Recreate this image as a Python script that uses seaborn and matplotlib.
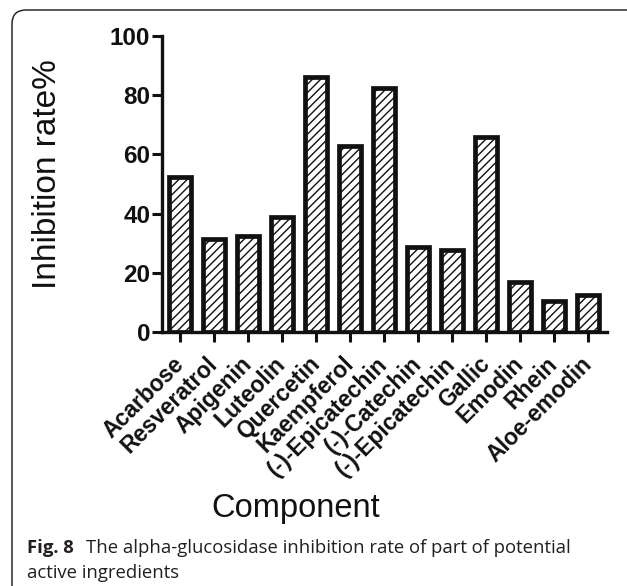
import matplotlib
matplotlib.use("Agg")
import matplotlib.pyplot as plt
import seaborn as sns
import pandas as pd
from matplotlib.patches import FancyBboxPatch
from matplotlib.transforms import IdentityTransform

components = ["Acarbose", "Resveratrol", "Apigenin", "Luteolin", "Quercetin",
              "Kaempferol", "(-)-Epicatechin", "(-)-Catechin", "(-)-Epicatechin ",
              "Gallic", "Emodin", "Rhein", "Aloe-emodin"]
tick_labels = ["Acarbose", "Resveratrol", "Apigenin", "Luteolin", "Quercetin",
               "Kaempferol", "(-)-Epicatechin", "(-)-Catechin", "(-)-Epicatechin",
               "Gallic", "Emodin", "Rhein", "Aloe-emodin"]
inhibition = [52.5, 31.5, 32.3, 38.7, 86.0, 62.8, 82.5, 28.6, 27.6, 66.0, 16.9, 10.5, 12.4]
y_ticks = [0, 20, 40, 60, 80, 100]

sns.set_style("ticks")
plt.rcParams["font.family"] = ["Liberation Sans", "DejaVu Sans"]
plt.rcParams["hatch.color"] = "black"
plt.rcParams["hatch.linewidth"] = 1.0

W, H = 627, 586
fig = plt.figure(figsize=(W / 100, H / 100), dpi=100)
ax = fig.add_axes([162 / W, 1 - 332 / H, (607 - 162) / W, (332 - 36) / H])

df = pd.DataFrame({"Component": components, "Inhibition": inhibition})
sns.barplot(data=df, x="Component", y="Inhibition", color="white",
            edgecolor="#111111", linewidth=3.4, width=0.65, ax=ax,
            saturation=1)
for p in ax.patches:
    p.set_hatch("////")
    p.set_facecolor("white")

ax.set_ylim(0, 100)
ax.set_xlim(-0.53, 12.56)
ax.set_yticks(y_ticks)
ax.set_yticklabels([str(v) for v in y_ticks], fontsize=17.5, fontweight="bold",
                   color="#111111")
ax.set_xticks(range(len(tick_labels)))
ax.set_xticklabels(tick_labels, rotation=45, ha="right", va="center",
                   rotation_mode="anchor", fontsize=16.5, fontweight="bold",
                   color="#111111")
ax.tick_params(axis="both", length=7, width=2.2, color="#111111", direction="out")
ax.tick_params(axis="y", pad=1.5)
ax.tick_params(axis="x", pad=13.5)
for s in ["top", "right"]:
    ax.spines[s].set_visible(False)
for s in ["left", "bottom"]:
    ax.spines[s].set_linewidth(2.4)
    ax.spines[s].set_color("#111111")

ax.set_ylabel("Inhibition rate%", fontsize=24, color="#111111")
ax.yaxis.set_label_coords(-0.222, 0.535)
ax.set_xlabel("Component", fontsize=23.5, color="#111111")
ax.xaxis.set_label_coords(0.3, -0.543)

# caption
cap_font = ["Open Sans", "DejaVu Sans"]
fig.text(27 / W, 1 - 553 / H, "Fig. 8", fontsize=13.3, fontweight="bold",
         family=cap_font, color="#231f20", va="baseline")
fig.text(86 / W, 1 - 553 / H,
         "The alpha-glucosidase inhibition rate of part of potential",
         fontsize=13.3, family=cap_font, color="#231f20", va="baseline")
fig.text(27 / W, 1 - 578 / H, "active ingredients", fontsize=13.3,
         family=cap_font, color="#231f20", va="baseline")

# rounded frame
frame = FancyBboxPatch((12, -60), 700, H - 10 + 60,
                       boxstyle="round,pad=0,rounding_size=14",
                       transform=IdentityTransform(), fill=False,
                       edgecolor="#2a2a2a", linewidth=1.1)
fig.patches.append(frame)

fig.savefig("out.png", dpi=100)
